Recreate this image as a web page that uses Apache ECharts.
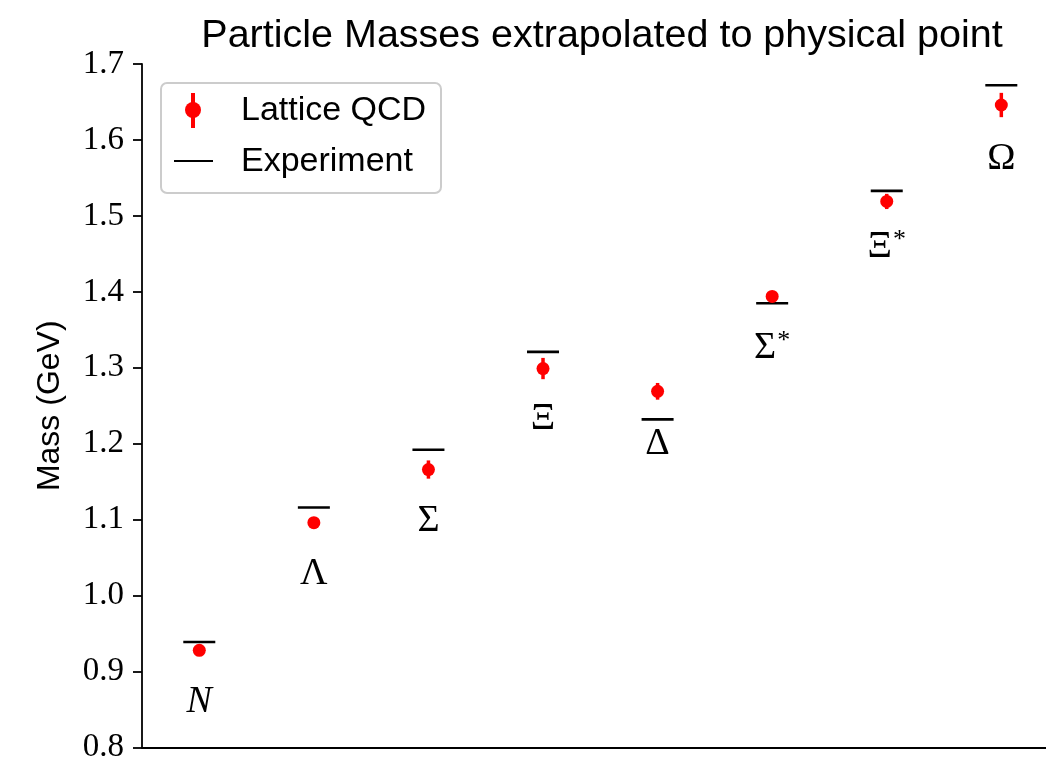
<!DOCTYPE html>
<html>
<head>
<meta charset="utf-8">
<script src="https://cdn.jsdelivr.net/npm/echarts@6/dist/echarts.min.js"></script>
<style>
  html, body { margin: 0; padding: 0; background: #fff; }
  #chart { width: 1046px; height: 764px; }
</style>
</head>
<body>
<div id="chart"></div>
<script>
// Baryon octet and decuplet masses (GeV)
const particles = ['N', 'Λ', 'Σ', 'Ξ', 'Δ', 'Σ*', 'Ξ*', 'Ω'];
const latticeMass = [0.928, 1.096, 1.166, 1.299, 1.269, 1.394, 1.519, 1.646];
const latticeErr  = [0.005, 0.005, 0.012, 0.014, 0.011, 0.005, 0.010, 0.016];
const experimentMass = [0.939, 1.116, 1.192, 1.321, 1.232, 1.385, 1.533, 1.672];
// Mass level at which each particle's symbol is written
const labelMass = [0.860, 1.028, 1.098, 1.232, 1.200, 1.326, 1.459, 1.575];
const yTicks = [0.8, 0.9, 1.0, 1.1, 1.2, 1.3, 1.4, 1.5, 1.6, 1.7];

const SANS = '"Liberation Sans", Arial, sans-serif';
const SERIF = '"Liberation Serif", "Times New Roman", serif';
const RED = '#ff0000';

const chart = echarts.init(document.getElementById('chart'), null, { renderer: 'canvas' });

const idx = particles.map((_, i) => i);

const option = {
  animation: false,
  backgroundColor: '#ffffff',
  title: {
    text: 'Particle Masses extrapolated to physical point',
    left: 597,
    textAlign: 'center',
    top: 11,
    textStyle: { fontFamily: SANS, fontWeight: 'normal', fontSize: 39.5, color: '#000' }
  },
  grid: { left: 142, right: 0, top: 64, bottom: 16, containLabel: false },
  xAxis: {
    type: 'value',
    min: -0.5,
    max: 7.39,
    axisLine: { show: true, onZero: false, lineStyle: { color: '#000', width: 1.8 } },
    axisTick: { show: false },
    axisLabel: { show: false },
    splitLine: { show: false }
  },
  yAxis: {
    type: 'value',
    min: yTicks[0],
    max: yTicks[yTicks.length - 1],
    interval: 0.1,
    name: 'Mass (GeV)',
    nameLocation: 'middle',
    nameGap: 76,
    nameTextStyle: { fontFamily: SANS, fontSize: 32, color: '#000' },
    axisLine: { show: true, onZero: false, lineStyle: { color: '#000', width: 1.8 } },
    axisTick: { show: true, inside: false, length: 9, lineStyle: { color: '#000', width: 1.8 } },
    axisLabel: {
      margin: 18,
      fontFamily: SERIF,
      fontSize: 33,
      color: '#000',
      formatter: v => v.toFixed(1)
    },
    splitLine: { show: false }
  },
  series: [
    {
      name: 'Experiment',
      type: 'scatter',
      symbol: 'rect',
      symbolSize: [32, 2.6],
      itemStyle: { color: '#000', opacity: 1 },
      data: idx.map(i => [i, experimentMass[i]]),
      z: 3
    },
    {
      name: 'Lattice QCD error',
      type: 'custom',
      renderItem: function (params, api) {
        const x = api.value(0);
        const lo = api.coord([x, api.value(1) - api.value(2)]);
        const hi = api.coord([x, api.value(1) + api.value(2)]);
        return {
          type: 'line',
          shape: { x1: lo[0], y1: lo[1], x2: hi[0], y2: hi[1] },
          style: { stroke: RED, lineWidth: 3.5 }
        };
      },
      data: idx.map(i => [i, latticeMass[i], latticeErr[i]]),
      z: 4
    },
    {
      name: 'Lattice QCD',
      type: 'scatter',
      symbol: 'circle',
      symbolSize: 13,
      itemStyle: { color: RED, opacity: 1 },
      data: idx.map(i => [i, latticeMass[i]]),
      z: 5
    },
    {
      name: 'labels',
      type: 'scatter',
      symbolSize: 0,
      silent: true,
      itemStyle: { opacity: 1 },
      data: idx.map(i => ({ value: [i, labelMass[i]], name: particles[i] })),
      label: {
        show: true,
        position: 'inside',
        formatter: p => {
          const n = p.name;
          if (n === 'N') return '{it|N}';
          if (n.endsWith('*')) return '{g|' + n[0] + '}{sup|*}';
          return '{g|' + n + '}';
        },
        rich: {
          it: { fontFamily: SERIF, fontStyle: 'italic', fontSize: 38, color: '#000' },
          g: { fontFamily: SERIF, fontSize: 38, color: '#000' },
          sup: { fontFamily: SERIF, fontSize: 26, color: '#000', verticalAlign: 'top', padding: [0, 0, 14, 1] }
        }
      }
    }
  ],
  graphic: [
    {
      type: 'group',
      left: 160,
      top: 82,
      children: [
        {
          type: 'rect',
          shape: { x: 0, y: 0, width: 280, height: 110, r: 6 },
          style: { fill: 'rgba(255,255,255,0.8)', stroke: '#cccccc', lineWidth: 2 }
        },
        {
          type: 'line',
          shape: { x1: 32, y1: 10, x2: 32, y2: 45 },
          style: { stroke: RED, lineWidth: 4 }
        },
        {
          type: 'circle',
          shape: { cx: 32, cy: 27, r: 8 },
          style: { fill: RED }
        },
        {
          type: 'text',
          style: { x: 80, y: 28, text: 'Lattice QCD', font: '34px ' + SANS, fill: '#000', verticalAlign: 'middle' }
        },
        {
          type: 'line',
          shape: { x1: 13, y1: 78, x2: 52, y2: 78 },
          style: { stroke: '#000', lineWidth: 2.2 }
        },
        {
          type: 'text',
          style: { x: 80, y: 79, text: 'Experiment', font: '34px ' + SANS, fill: '#000', verticalAlign: 'middle' }
        }
      ]
    }
  ]
};

chart.setOption(option);
</script>
</body>
</html>
